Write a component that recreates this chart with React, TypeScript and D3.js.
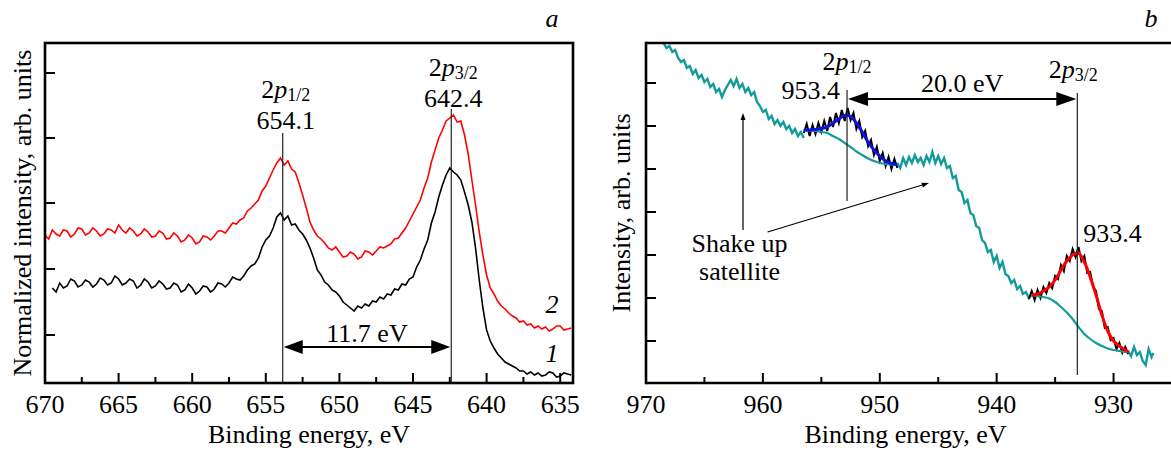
import React from 'react';
import * as d3 from 'd3';

const W = 1171;
const H = 452;
const FONT = '"Liberation Serif", "Times New Roman", serif';

// ---------- Panel a (Mn 2p) ----------
const aXMajor = [670, 665, 660, 655, 650, 645, 640, 635];
const aXMinor = [667.5, 662.5, 657.5, 652.5, 647.5, 642.5, 637.5];
const aYTicks = [48, 114, 180, 245, 310];

// curve 1 (black) [binding energy eV, intensity arb.]
const curve1: [number, number][] = [
  [669.5,95],[669.25,91],[669,100],[668.75,95],[668.5,97],[668.25,104],[668,102],[667.75,96],[667.5,98],[667.25,103],
  [667,101],[666.75,96],[666.5,99],[666.25,105],[666,103],[665.75,98],[665.5,100],[665.25,107],[665,104],[664.75,98],
  [664.5,100],[664.25,104],[664,102],[663.75,95],[663.5,98],[663.25,104],[663,101],[662.75,95],[662.5,97],[662.25,102],
  [662,99],[661.75,94],[661.5,95],[661.25,100],[661,98],[660.75,91],[660.5,93],[660.25,99],[660,95],[659.75,89],
  [659.5,92],[659.25,97],[659,96],[658.75,91],[658.5,94],[658.25,100],[658,99],[657.75,96],[657.5,100],[657.25,106],
  [657,104],[656.75,103],[656.5,107],[656.25,113],[656,117],[655.75,119],[655.5,125],[655.25,136],[655,143],[654.75,147],
  [654.5,155],[654.25,166],[654,170],[653.75,163],[653.5,167],[653.25,158],[653,159],[652.75,153],[652.5,149],[652.25,143],
  [652,135],[651.75,125],[651.5,113],[651.25,108],[651,101],[650.75,98],[650.5,93],[650.25,91],[650,87],[649.75,81],
  [649.5,78],[649.25,75],[649,72],[648.75,77],[648.5,75],[648.25,79],[648,77],[647.75,82],[647.5,81],[647.25,86],
  [647,84],[646.75,89],[646.5,88],[646.25,94],[646,93],[645.75,99],[645.5,98],[645.25,104],[645,106],[644.75,116],
  [644.5,123],[644.25,134],[644,143],[643.75,160],[643.5,171],[643.25,186],[643,198],[642.75,208],[642.5,215],[642.25,211],
  [642,208],[641.75,203],[641.5,191],[641.25,178],[641,161],[640.75,135],[640.5,103],[640.25,75],[640,53],[639.75,42],
  [639.5,35],[639.25,29],[639,25],[638.75,21],[638.5,19],[638.25,17],[638,15],[637.75,12],[637.5,12],[637.25,9],
  [637,11],[636.75,8],[636.5,10],[636.25,7],[636,8],[635.75,11],[635.5,10],[635.25,6],[635,7],[634.75,10],
  [634.5,9],[634.25,8]
];

// curve 2 (red)
const curve2: [number, number][] = [
  [670,148],[669.75,144],[669.5,153],[669.25,149],[669,147],[668.75,153],[668.5,152],[668.25,146],[668,149],[667.75,155],
  [667.5,154],[667.25,148],[667,150],[666.75,155],[666.5,152],[666.25,147],[666,149],[665.75,154],[665.5,153],[665.25,150],
  [665,158],[664.75,153],[664.5,150],[664.25,155],[664,152],[663.75,147],[663.5,149],[663.25,154],[663,151],[662.75,146],
  [662.5,147],[662.25,152],[662,150],[661.75,144],[661.5,145],[661.25,150],[661,147],[660.75,141],[660.5,143],[660.25,148],
  [660,145],[659.75,139],[659.5,141],[659.25,147],[659,146],[658.75,143],[658.5,147],[658.25,152],[658,152],[657.75,150],
  [657.5,155],[657.25,160],[657,159],[656.75,163],[656.5,165],[656.25,172],[656,175],[655.75,179],[655.5,183],[655.25,192],
  [655,197],[654.75,205],[654.5,213],[654.25,220],[654,225],[653.75,218],[653.5,222],[653.25,214],[653,211],[652.75,200],
  [652.5,188],[652.25,175],[652,161],[651.75,153],[651.5,147],[651.25,144],[651,140],[650.75,135],[650.5,133],[650.25,136],
  [650,131],[649.75,126],[649.5,127],[649.25,131],[649,129],[648.75,124],[648.5,126],[648.25,132],[648,131],[647.75,128],
  [647.5,132],[647.25,136],[647,135],[646.75,137],[646.5,139],[646.25,144],[646,145],[645.75,150],[645.5,155],[645.25,162],
  [645,169],[644.75,176],[644.5,183],[644.25,195],[644,205],[643.75,221],[643.5,233],[643.25,245],[643,253],[642.75,262],
  [642.5,265],[642.25,268],[642,261],[641.75,262],[641.5,248],[641.25,229],[641,203],[640.75,178],[640.5,151],[640.25,128],
  [640,108],[639.75,95],[639.5,89],[639.25,82],[639,77],[638.75,74],[638.5,70],[638.25,67],[638,65],[637.75,61],
  [637.5,62],[637.25,58],[637,59],[636.75,55],[636.5,57],[636.25,54],[636,56],[635.75,52],[635.5,54],[635.25,57],
  [635,57],[634.75,53],[634.5,54],[634.25,55]
];

// ---------- Panel b (Cu 2p) ----------
const bXMajor = [970, 960, 950, 940, 930];
const bXMinor = [965, 955, 945, 935];
const bYTicks = [42, 85, 128, 171, 214, 257, 300];

const cyanA: [number, number][] = [
  [968.5,340],[968.25,335],[968,337],[967.75,331],[967.5,333],[967.25,325],[967,321],[966.75,323],[966.5,315],[966.25,317],
  [966,309],[965.75,313],[965.5,305],[965.25,308],[965,301],[964.75,304],[964.5,296],[964.25,299],[964,291],[963.75,294],
  [963.5,286],[963.25,293],[963,298],[962.75,303],[962.5,297],[962.25,304],[962,295],[961.75,299],[961.5,291],[961.25,295],
  [961,288],[960.75,291],[960.5,281],[960.25,277],[960,271],[959.75,273],[959.5,264],[959.25,267],[959,259],[958.75,263],
  [958.5,257],[958.25,261],[958,254],[957.75,257],[957.5,250],[957.25,254],[957,247],[956.75,251],[956.5,245]
];
const cyanB: [number, number][] = [
  [948.5,220],[948.25,215],[948,225],[947.75,218],[947.5,226],[947.25,220],[947,228],[946.75,221],[946.5,225],[946.25,218],
  [946,227],[945.75,221],[945.5,231],[945.25,220],[945,227],[944.75,219],[944.5,225],[944.25,215],[944,217],[943.75,205],
  [943.5,207],[943.25,193],[943,191],[942.75,180],[942.5,183],[942.25,170],[942,168],[941.75,157],[941.5,155],[941.25,143],
  [941,140],[940.75,131],[940.5,133],[940.25,121],[940,127],[939.75,115],[939.5,121],[939.25,109],[939,107],[938.75,100],
  [938.5,103],[938.25,94],[938,97],[937.75,89],[937.5,91],[937.25,85],[937,88]
];
const cyanC: [number, number][] = [
  [928.75,32],[928.5,27],[928.25,36],[928,28],[927.75,31],[927.5,22],[927.25,18],[927,34],[926.75,26],[926.6,30]
];

const data12: [number, number][] = [
  [956.5,250],[956.25,259],[956,247],[955.75,258],[955.5,249],[955.25,260],[955,251],[954.75,262],[954.5,252],[954.25,266],
  [954,256],[953.75,270],[953.5,260],[953.25,273],[953,262],[952.75,275],[952.5,263],[952.25,270],[952,254],[951.75,262],
  [951.5,246],[951.25,252],[951,237],[950.75,243],[950.5,228],[950.25,236],[950,222],[949.75,230],[949.5,217],[949.25,226],
  [949,214],[948.75,224],[948.5,215]
];
const fit12: [number, number][] = [
  [956.5,253],[956,253],[955.5,253.5],[955,254.5],[954.5,256],[954,260],[953.5,264],[953,267.5],[952.5,266.5],[952,260],
  [951.5,251],[951,241],[950.5,233],[950,227],[949.5,222],[949,219.5],[948.5,218.5]
];
const bg12: [number, number][] = [
  [956.5,253],[956,252.5],[955.5,252],[955,251],[954.5,250],[954,247],[953.5,244],[953,240],[952.5,236],[952,231.5],
  [951.5,228],[951,224.5],[950.5,222],[950,220],[949.5,219],[949,218.5],[948.5,218]
];

const data32: [number, number][] = [
  [937.25,84],[937,92],[936.75,83],[936.5,93],[936.25,85],[936,96],[935.75,90],[935.5,100],[935.25,95],[935,107],
  [934.75,104],[934.5,118],[934.25,112],[934,127],[933.75,122],[933.5,134],[933.25,126],[933,136],[932.75,122],[932.5,127],
  [932.25,110],[932,111],[931.75,96],[931.5,92],[931.25,74],[931,72],[930.75,55],[930.5,56],[930.25,43],[930,45],
  [929.75,34],[929.5,40],[929.25,30],[929,36],[928.75,29]
];
const fit32: [number, number][] = [
  [937,88],[936.5,89],[936,92],[935.5,96],[935,103],[934.5,113],[934,122],[933.5,128],[933,130],[932.5,121],
  [932,106],[931.5,88],[931,68],[930.5,52],[930,42],[929.5,37],[929,33],[928.7,31]
];
const bg32: [number, number][] = [
  [937,88],[936.5,87],[936,86],[935.5,84.5],[935,81],[934.5,76],[934,70.5],[933.5,64],[933,56],[932.5,49],
  [932,44],[931.5,40],[931,37],[930.5,34.5],[930,33],[929.5,32],[929,31],[928.7,31]
];

const CYAN = '#139b9b';
const BLUE = '#1010e0';
const RED = '#ff0000';

function head(x: number, y: number, dx: number, dy: number, len: number, hw: number) {
  const n = Math.hypot(dx, dy);
  const ux = dx / n, uy = dy / n;
  const bx = x - ux * len, by = y - uy * len;
  return `M${x},${y}L${bx - uy * hw},${by + ux * hw}L${bx + uy * hw},${by - ux * hw}Z`;
}

function PLabel({ x, y, sub }: { x: number; y: number; sub: string }) {
  return (
    <text x={x} y={y} textAnchor="middle" fontSize={26} fontFamily={FONT}>
      2<tspan fontStyle="italic">p</tspan>
      <tspan fontSize={18} dy={3}>{sub}</tspan>
    </text>
  );
}

export default function App() {
  const xA = d3.scaleLinear().domain([670, 634.13]).range([45, 573]);
  const xB = d3.scaleLinear().domain([970, 925]).range([646, 1172]);
  const y = d3.scaleLinear().domain([0, 340]).range([383, 43]);

  const lineA = d3.line<[number, number]>().x((d) => xA(d[0])).y((d) => y(d[1]));
  const lineB = d3.line<[number, number]>().x((d) => xB(d[0])).y((d) => y(d[1]));
  const smoothB = d3
    .line<[number, number]>()
    .x((d) => xB(d[0]))
    .y((d) => y(d[1]))
    .curve(d3.curveCatmullRom);

  const top = y(340);
  const bot = y(0);
  const txt = { fontFamily: FONT, fontSize: 26 } as const;

  // annotation positions (data units)
  const a1 = xA(653.85), a2 = xA(642.4);
  const aArrowY = y(36);
  const b1 = xB(952.8), b2 = xB(933.1);
  const bArrowY = y(284);

  const svx = xB(961.7);
  const sl0 = [xB(959.6), y(151)];
  const sl1 = [xB(945.8), y(200)];

  return (
    <svg width={W} height={H} style={{ position: 'absolute', left: 0, top: 0, background: '#fff' }}>
      {/* ---------- Panel a ---------- */}
      <g>
        <path d={lineA(curve2) || ''} fill="none" stroke={RED} strokeWidth={1.6} />
        <path d={lineA(curve1) || ''} fill="none" stroke="#000" strokeWidth={1.6} />
        <rect x={xA(670)} y={top} width={573 - xA(670)} height={bot - top} fill="none" stroke="#000" strokeWidth={2.6} />
        {aXMajor.map((t) => (
          <g key={'am' + t}>
            <line x1={xA(t)} x2={xA(t)} y1={bot} y2={bot - 10} stroke="#000" strokeWidth={2} />
            <text x={xA(t)} y={413} textAnchor="middle" {...txt}>{t}</text>
          </g>
        ))}
        {aXMinor.map((t) => (
          <line key={'an' + t} x1={xA(t)} x2={xA(t)} y1={bot} y2={bot - 6} stroke="#000" strokeWidth={2} />
        ))}
        {aYTicks.map((t) => (
          <line key={'ay' + t} x1={xA(670)} x2={xA(670) + 10} y1={y(t)} y2={y(t)} stroke="#000" strokeWidth={2} />
        ))}
        {/* peak lines */}
        <line x1={a1} x2={a1} y1={y(250)} y2={bot} stroke="#222" strokeWidth={1.2} />
        <line x1={a2} x2={a2} y1={y(274)} y2={bot} stroke="#222" strokeWidth={1.2} />
        <PLabel x={a1 + 3} y={y(285)} sub="1/2" />
        <text x={a1 + 3} y={y(254)} textAnchor="middle" {...txt}>654.1</text>
        <PLabel x={a2 + 2} y={y(307)} sub="3/2" />
        <text x={a2 + 2} y={y(276)} textAnchor="middle" {...txt}>642.4</text>
        {/* spacing arrow */}
        <line x1={a1 + 15} x2={a2 - 15} y1={aArrowY} y2={aArrowY} stroke="#000" strokeWidth={2} />
        <path d={head(a1 + 1, aArrowY, -1, 0, 19, 7)} fill="#000" />
        <path d={head(a2 - 1, aArrowY, 1, 0, 19, 7)} fill="#000" />
        <text x={(a1 + a2) / 2} y={y(41)} textAnchor="middle" {...txt}>11.7 eV</text>
        {/* curve labels */}
        <text x={552} y={y(70)} textAnchor="middle" fontStyle="italic" {...txt}>2</text>
        <text x={552} y={y(21)} textAnchor="middle" fontStyle="italic" {...txt}>1</text>
        <text x={552} y={27} textAnchor="middle" fontStyle="italic" {...txt}>a</text>
        <text transform={`translate(31,${(top + bot) / 2}) rotate(-90)`} textAnchor="middle" {...txt}>
          Normalized intensity, arb. units
        </text>
        <text x={(xA(670) + 573) / 2} y={443} textAnchor="middle" {...txt}>Binding energy, eV</text>
      </g>

      {/* ---------- Panel b ---------- */}
      <g>
        <path d={lineB(cyanA) || ''} fill="none" stroke={CYAN} strokeWidth={2.4} />
        <path d={lineB(cyanB) || ''} fill="none" stroke={CYAN} strokeWidth={2.4} />
        <path d={lineB(cyanC) || ''} fill="none" stroke={CYAN} strokeWidth={2.4} />
        <path d={lineB(data12) || ''} fill="none" stroke="#000" strokeWidth={2} />
        <path d={lineB(data32) || ''} fill="none" stroke="#000" strokeWidth={2} />
        <path d={smoothB(bg12) || ''} fill="none" stroke={CYAN} strokeWidth={2.2} />
        <path d={smoothB(bg32) || ''} fill="none" stroke={CYAN} strokeWidth={2.2} />
        <path d={smoothB(fit12) || ''} fill="none" stroke={BLUE} strokeWidth={3} />
        <path d={smoothB(fit32) || ''} fill="none" stroke={RED} strokeWidth={3} />

        <line x1={xB(970)} x2={W} y1={top} y2={top} stroke="#000" strokeWidth={2.6} />
        <line x1={xB(970)} x2={W} y1={bot} y2={bot} stroke="#000" strokeWidth={2.6} />
        <line x1={xB(970)} x2={xB(970)} y1={top - 1.3} y2={bot + 1.3} stroke="#000" strokeWidth={2.6} />
        {bXMajor.map((t) => (
          <g key={'bm' + t}>
            <line x1={xB(t)} x2={xB(t)} y1={bot} y2={bot - 10} stroke="#000" strokeWidth={2} />
            <text x={xB(t)} y={413} textAnchor="middle" {...txt}>{t}</text>
          </g>
        ))}
        {bXMinor.map((t) => (
          <line key={'bn' + t} x1={xB(t)} x2={xB(t)} y1={bot} y2={bot - 6} stroke="#000" strokeWidth={2} />
        ))}
        {bYTicks.map((t) => (
          <line key={'by' + t} x1={xB(970)} x2={xB(970) + 10} y1={y(t)} y2={y(t)} stroke="#000" strokeWidth={2} />
        ))}

        {/* peak lines */}
        <line x1={b1} x2={b1} y1={y(293)} y2={y(182)} stroke="#222" strokeWidth={1.2} />
        <line x1={b2} x2={b2} y1={y(290)} y2={y(8)} stroke="#222" strokeWidth={1.2} />
        <line x1={b1 + 15} x2={b2 - 15} y1={bArrowY} y2={bArrowY} stroke="#000" strokeWidth={2} />
        <path d={head(b1 + 1, bArrowY, -1, 0, 20, 7)} fill="#000" />
        <path d={head(b2 - 1, bArrowY, 1, 0, 20, 7)} fill="#000" />
        <text x={(b1 + b2) / 2} y={y(291)} textAnchor="middle" {...txt}>20.0 eV</text>
        <PLabel x={b1} y={y(313)} sub="1/2" />
        <text x={b1 - 7} y={y(284)} textAnchor="end" {...txt}>953.4</text>
        <PLabel x={b2 - 4} y={y(305)} sub="3/2" />
        <text x={b2 + 6} y={y(141)} textAnchor="start" {...txt}>933.4</text>

        {/* shake-up satellite */}
        <line x1={svx} x2={svx} y1={y(153)} y2={y(265)} stroke="#000" strokeWidth={1.2} />
        <path d={head(svx, y(270), 0, -1, 7, 2.5)} fill="#000" />
        <line x1={sl0[0]} y1={sl0[1]} x2={sl1[0] - 5} y2={sl1[1] + 1.5} stroke="#000" strokeWidth={1.2} />
        <path d={head(sl1[0], sl1[1], sl1[0] - sl0[0], sl1[1] - sl0[1], 7, 2.5)} fill="#000" />
        <text x={xB(962)} y={y(131)} textAnchor="middle" {...txt}>Shake up</text>
        <text x={xB(962)} y={y(103)} textAnchor="middle" {...txt}>satellite</text>

        <text x={1151} y={27} textAnchor="middle" fontStyle="italic" {...txt}>b</text>
        <text transform={`translate(630,${(top + bot) / 2}) rotate(-90)`} textAnchor="middle" {...txt}>
          Intensity, arb. units
        </text>
        <text x={(xB(970) + W) / 2 - 3} y={443} textAnchor="middle" {...txt}>Binding energy, eV</text>
      </g>
    </svg>
  );
}
